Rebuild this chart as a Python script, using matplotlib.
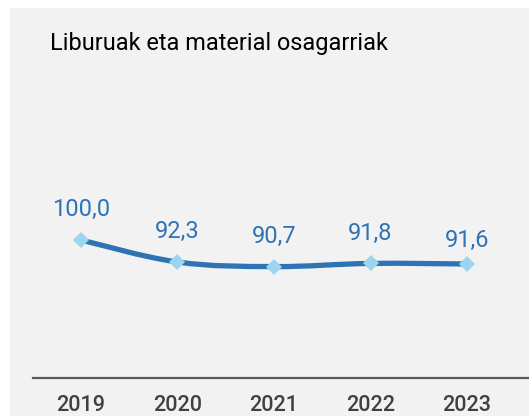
import matplotlib.pyplot as plt
from matplotlib.patches import Rectangle
from matplotlib.path import Path
from matplotlib.patches import PathPatch

# data
years = ["2019", "2020", "2021", "2022", "2023"]
values = [100.0, 92.3, 90.7, 91.8, 91.6]
labels = ["100,0", "92,3", "90,7", "91,8", "91,6"]

TITLE = "Liburuak eta material osagarriak"
LINE_COL = "#2e74b5"
MARK_COL = "#9dd5ef"
BG = "#f2f2f2"

plt.rcParams['font.family'] = ['Roboto', 'DejaVu Sans']


def smooth_path(xs, ys, k=0.18):
    """catmull-rom style bezier through the points"""
    verts = [(xs[0], ys[0])]
    codes = [Path.MOVETO]
    n = len(xs)
    for i in range(n - 1):
        x0, y0 = xs[max(i - 1, 0)], ys[max(i - 1, 0)]
        x1, y1 = xs[i], ys[i]
        x2, y2 = xs[i + 1], ys[i + 1]
        x3, y3 = xs[min(i + 2, n - 1)], ys[min(i + 2, n - 1)]
        c1 = (x1 + (x2 - x0) * k, y1 + (y2 - y0) * k)
        c2 = (x2 - (x3 - x1) * k, y2 - (y3 - y1) * k)
        verts += [c1, c2, (x2, y2)]
        codes += [Path.CURVE4] * 3
    return Path(verts, codes)


def main():
    fig = plt.figure(figsize=(5.29, 4.16), dpi=100)
    fig.patch.set_facecolor("white")
    # gray card behind the chart
    fig.patches.append(Rectangle((10 / 529, 0), 1, 1 - 8 / 416,
                                 transform=fig.transFigure,
                                 facecolor=BG, edgecolor="none", zorder=-1))

    ax = fig.add_axes([33 / 529, 38 / 416, 1 - 33 / 529, 278 / 416])
    ax.set_facecolor("none")

    xs = list(range(len(years)))
    ax.add_patch(PathPatch(smooth_path(xs, values), facecolor="none",
                           edgecolor=LINE_COL, lw=3.8, capstyle="round",
                           zorder=2))
    ax.plot(xs, values, linestyle="none", marker="D", markersize=7.8,
            color=MARK_COL, markeredgewidth=0, zorder=3)

    # last label sits a bit lower in the original
    offsets = [17, 17, 17, 17, 12]
    for x, v, lab, off in zip(xs, values, labels, offsets):
        ax.annotate(lab, (x, v), xytext=(0, off), textcoords="offset points",
                    ha="center", va="baseline", fontsize=17, color=LINE_COL)

    ax.set_xlim(-0.497, 4.642)
    ax.set_ylim(51.7, 149.0)
    ax.set_xticks(xs)
    ax.set_xticklabels(years, fontsize=15.5, fontweight="medium",
                       color="#404040")
    ax.tick_params(axis="x", length=0, pad=12)
    ax.set_yticks([])
    for s in ["top", "right", "left"]:
        ax.spines[s].set_visible(False)
    ax.spines["bottom"].set_color("#595959")
    ax.spines["bottom"].set_linewidth(1.6)

    fig.text(50 / 529, 1 - 50 / 416, TITLE, fontsize=16.9, color="black",
             ha="left", va="baseline")

    fig.savefig("out.png", dpi=100)


if __name__ == '__main__':
    main()
